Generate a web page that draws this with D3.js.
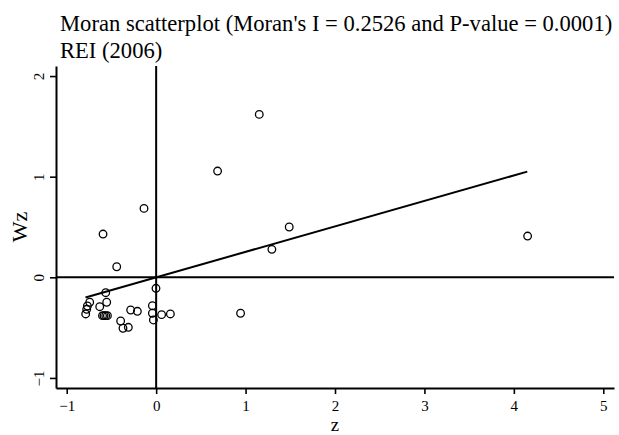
<!DOCTYPE html>
<html>
<head>
<meta charset="utf-8">
<script src="https://cdn.jsdelivr.net/npm/d3@7"></script>
<style>
  body { margin: 0; background: #fff; }
  svg { display: block; font-family: "Liberation Serif", "Times New Roman", serif; }
</style>
</head>
<body>
<div id="chart"></div>
<script>
// standardized values (z) and their spatial lags (Wz)
let z = [-0.564,-0.743,-0.769,-0.777,-0.788,-0.631,-0.553,-0.600,-0.583,-0.564,-0.545,
         -0.397,-0.371,-0.311,-0.285,-0.210,-0.042,-0.002,-0.042,-0.031,0.061,0.159,
         1.153,0.687,-0.136,-0.594,-0.441,1.488,1.294,4.154,0.944]
let wz = [-0.153,-0.248,-0.285,-0.318,-0.364,-0.292,-0.248,-0.381,-0.381,-0.381,-0.381,
          -0.434,-0.506,-0.497,-0.325,-0.338,-0.282,-0.109,-0.357,-0.424,-0.371,-0.364,
          1.619,1.056,0.685,0.430,0.105,0.500,0.278,0.410,-0.357]
let fitZ = [-0.79, 4.15]
let fitWz = [-0.20, 1.05]
let xTicks = [-1, 0, 1, 2, 3, 4, 5]
let yTicks = [-1, 0, 1, 2]
let title1 = "Moran scatterplot (Moran's I = 0.2526 and P-value = 0.0001)"
let title2 = "REI (2006)"

let w = 619, h = 435
let svg = d3.select('#chart').append('svg').attr('width', w).attr('height', h)

let xScale = d3.scaleLinear().domain([-1.12, 5.12]).range([56, 614])
let yScale = d3.scaleLinear().domain([-1.1, 2.1]).range([388, 66])
let fmt = d3.format('d')

// titles
svg.append('text').attr('x', 60).attr('y', 30.5).attr('font-size', 22.6).text(title1)
svg.append('text').attr('x', 60).attr('y', 58).attr('font-size', 22.6).text(title2)

// axes
let xAxis = d3.axisBottom(xScale).tickValues(xTicks).tickFormat(fmt).tickSize(6).tickSizeOuter(0).tickPadding(6)
let yAxis = d3.axisLeft(yScale).tickValues(yTicks).tickFormat(fmt).tickSize(6).tickSizeOuter(0)

let gx = svg.append('g').attr('transform', 'translate(0,' + yScale.range()[0] + ')').call(xAxis)
let gy = svg.append('g').attr('transform', 'translate(' + xScale.range()[0] + ',0)').call(yAxis)

gx.selectAll('text').attr('font-size', 15).attr('fill', '#000').style('font-family', 'Liberation Serif')
gy.selectAll('text').attr('font-size', 15).attr('fill', '#000').style('font-family', 'Liberation Serif')
  .attr('transform', 'rotate(-90)').attr('x', 0).attr('y', -12).attr('dy', 0).attr('text-anchor', 'middle')
svg.selectAll('.domain').attr('stroke', '#000').attr('stroke-width', 2)
svg.selectAll('.tick line').attr('stroke', '#000').attr('stroke-width', 1.6)

// axis titles
svg.append('text').attr('x', xScale(2)).attr('y', 430.8).attr('text-anchor', 'middle').attr('font-size', 18.8).text('z')
svg.append('text').attr('transform', 'translate(27,' + yScale(0.5) + ') rotate(-90)')
  .attr('text-anchor', 'middle').attr('font-size', 22).text('Wz')

// reference lines through the origin
svg.append('line').attr('x1', xScale.range()[0]).attr('x2', xScale.range()[1])
  .attr('y1', yScale(0)).attr('y2', yScale(0)).attr('stroke', '#000').attr('stroke-width', 2)
svg.append('line').attr('x1', xScale(0)).attr('x2', xScale(0))
  .attr('y1', yScale.range()[0]).attr('y2', yScale.range()[1]).attr('stroke', '#000').attr('stroke-width', 2)

// fitted line
let line = d3.line().x((d, i) => xScale(fitZ[i])).y((d, i) => yScale(fitWz[i]))
svg.append('path').datum(fitZ).attr('d', line).attr('fill', 'none').attr('stroke', '#000').attr('stroke-width', 2)

// points
svg.selectAll('circle.pt').data(z).enter().append('circle').attr('class', 'pt')
  .attr('cx', (d) => xScale(d))
  .attr('cy', (d, i) => yScale(wz[i]))
  .attr('r', 3.8)
  .attr('fill', 'none')
  .attr('stroke', '#000')
  .attr('stroke-width', 1.3)
</script>
</body>
</html>
